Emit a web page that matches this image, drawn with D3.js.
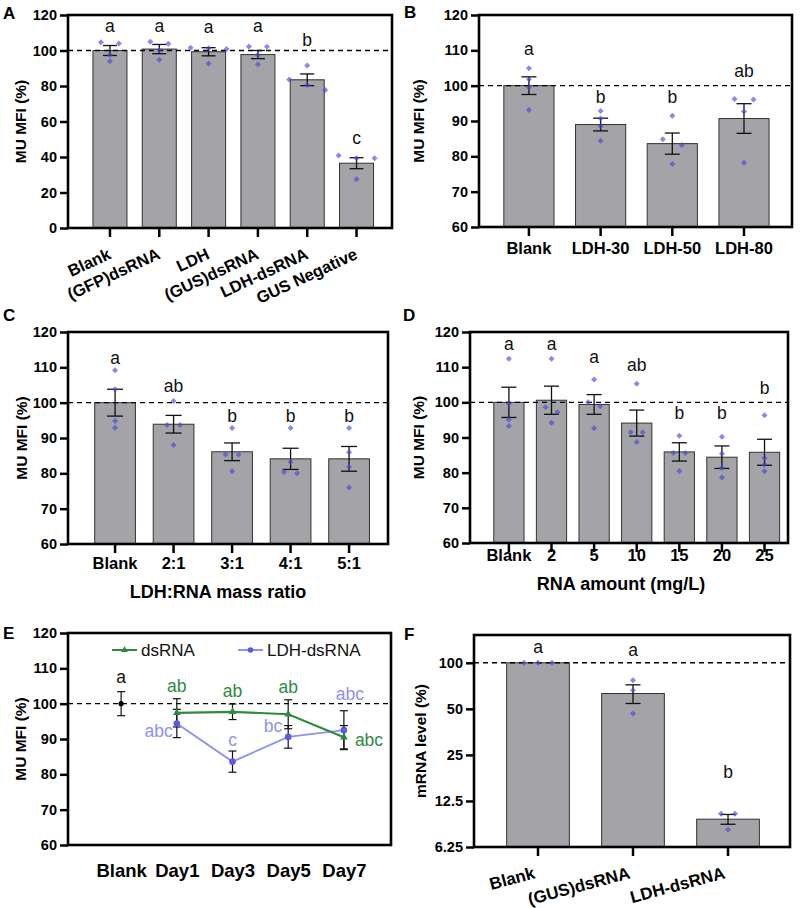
<!DOCTYPE html>
<html><head><meta charset="utf-8">
<script src="https://cdn.jsdelivr.net/npm/d3@7/dist/d3.min.js"></script>
<style>body{margin:0;background:#fff}svg{display:block}text{font-family:"Liberation Sans",Arial,Helvetica,sans-serif}</style>
</head><body><svg id="chart" width="800" height="908"></svg>
<script>
// ---------------- DATA ----------------
// Panel A
const aCats = ["Blank","(GFP)dsRNA","LDH","(GUS)dsRNA","LDH-dsRNA","GUS Negative"];
const aMean = [100, 100.8, 99.3, 97.7, 83.5, 36.5];
const aSem  = [2.8, 2.6, 2.3, 2.3, 3.3, 3.1];
const aPts  = [[104.0,104.6,97.4,93.9],[103.8,104.9,100.2,94.8],[101.6,100.8,101.2,92.7],[102.1,102.3,97.4,92.3],[91.6,83.7,80.5,77.7],[40.8,39.3,39.3,27.5]];
const aLet  = ["a","a","a","a","b","c"];
const aYTicks = [0,20,40,60,80,100,120];
// Panel B
const bCats = ["Blank","LDH-30","LDH-50","LDH-80"];
const bMean = [100, 89.0, 83.6, 90.7];
const bSem  = [2.5, 1.8, 3.0, 4.2];
const bPts  = [[104.9,101.8,99.5,93.1],[92.8,90.7,88.5,84.4],[91.5,84.8,83.2,77.8],[96.1,96.2,92.7,78.2]];
const bLet  = ["a","b","b","ab"];
const mfiTicks = [60,70,80,90,100,110,120];
// Panel C
const cCats = ["Blank","2:1","3:1","4:1","5:1"];
const cMean = [100, 93.9, 86.1, 84.1, 84.1];
const cSem  = [3.8, 2.5, 2.5, 3.0, 3.5];
const cPts  = [[109.2,103.8,94.8,92.9],[100.5,93.7,93.7,88.0],[92.8,85.3,85.3,80.6],[92.8,83.2,80.0,80.4],[92.8,86.0,81.8,76.0]];
const cLet  = ["a","ab","b","b","b"];
// Panel D
const dCats = ["Blank","2","5","10","15","20","25"];
const dMean = [100, 100.6, 99.4, 94.1, 85.9, 84.4, 85.8];
const dSem  = [4.3, 4.0, 2.8, 3.7, 2.6, 3.2, 3.7];
const dPts  = [[112.4,99.6,95.1,93.3],[112.4,98.6,97.2,94.2],[106.5,100.0,98.9,92.6],[105.3,91.5,91.5,88.7],[90.5,85.6,85.6,80.5],[90.2,85.4,81.3,78.6],[96.3,84.2,82.3,80.4]];
const dLet  = ["a","a","a","ab","b","b","b"];
// Panel E
const eCats = ["Blank","Day1","Day3","Day5","Day7"];
const eBlankMean = 100, eBlankSem = 3.4, eBlankLet = "a";
const eDays = ["Day1","Day3","Day5","Day7"];
const eDsMean = [97.4, 97.7, 97.0, 90.5];
const eDsSem  = [4.0, 2.2, 4.1, 3.3];
const eDsLet  = ["ab","ab","ab","abc"];
const eLdhMean = [94.4, 83.6, 90.6, 92.5];
const eLdhSem  = [4.0, 3.0, 3.2, 5.5];
const eLdhLet  = ["abc","c","bc","abc"];
const eSeries = ["dsRNA","LDH-dsRNA"];
// Panel F
const fCats = ["Blank","(GUS)dsRNA","LDH-dsRNA"];
const fMean = [100, 63.0, 9.5];
const fSem  = [0, 8.8, 0.7];
const fPts  = [[100,100,100],[77.0,66.2,46.6],[10.3,10.3,8.1]];
const fLet  = ["a","a","b"];
const fYTicks = [6.25,12.5,25,50,100];

// ---------------- DRAWING ----------------
const svg = d3.select("#chart");
const BAR = "#a3a3a8", DOT = "#4646dc", GREEN = "#2e8b3e", BLUE = "#8e92f0", BLUEDOT = "#5b5be6";

function swarm(vals, y, spacing, thr){
  const idx = vals.map((v,i)=>i).sort((a,b)=>vals[b]-vals[a]);
  const off = new Array(vals.length).fill(0);
  let cl = [idx[0]];
  const flush = ()=>{ const n = cl.length; cl.forEach((k,j)=>off[k]=(j-(n-1)/2)*spacing); };
  for (let j=1;j<idx.length;j++){
    if (Math.abs(y(vals[idx[j]])-y(vals[idx[j-1]]))<thr) cl.push(idx[j]); else { flush(); cl=[idx[j]]; }
  }
  flush();
  return off;
}

function panelLetter(t, x, y){
  svg.append("text").attr("x",x).attr("y",y).attr("font-size",17).attr("font-weight","bold").text(t);
}

function yAxis(g, y, x0, ticks, fmt){
  const ax = g.append("g").attr("transform",`translate(${x0},0)`)
    .call(d3.axisLeft(y).tickValues(ticks).tickSize(8).tickPadding(3).tickFormat(fmt));
  ax.select(".domain").remove();
  ax.selectAll(".tick line").attr("stroke","#000").attr("stroke-width",2.5);
  ax.selectAll(".tick text").attr("font-size",14.5).attr("font-weight","bold").attr("fill","#000")
    .style("font-family",'"Liberation Sans",Arial,sans-serif');
}

function yTitle(t, cx, cy){
  return svg.append("text").attr("transform",`translate(${cx+5.5},${cy}) rotate(-90)`).attr("text-anchor","middle")
    .attr("font-size",15.5).attr("font-weight","bold").text(t);
}

function frame(g, box){
  const [x0,y0,x1,y1] = box;
  g.append("rect").attr("x",x0).attr("y",y0).attr("width",x1-x0).attr("height",y1-y0)
    .attr("fill","none").attr("stroke","#000").attr("stroke-width",2.6);
}

function barPanel(c){
  const g = svg.append("g");
  const [x0,y0,x1,y1] = c.box;
  const y = (c.log ? d3.scaleLog().base(2) : d3.scaleLinear()).domain(c.domain).range([y1,y0]);
  const x = d3.scaleBand().domain(c.cats).range([x0,x1]).paddingInner(c.pi).paddingOuter(c.po).align(c.align);
  const bw = x.bandwidth();
  const cx = d => x(d) + bw/2;
  g.selectAll("rect.bar").data(c.cats).join("rect").attr("class","bar")
    .attr("x",d=>x(d)).attr("width",bw)
    .attr("y",(d,i)=>y(c.mean[i])).attr("height",(d,i)=>y1-y(c.mean[i]))
    .attr("fill",BAR).attr("stroke","#333").attr("stroke-width",1);
  g.append("line").attr("x1",x0).attr("x2",x1).attr("y1",y(100)).attr("y2",y(100))
    .attr("stroke","#000").attr("stroke-width",1.4).attr("stroke-dasharray","5,4");
  c.cats.forEach((d,i)=>{
    if (!c.sem[i]) return;
    const hi = y(c.mean[i]+c.sem[i]), lo = y(c.mean[i]-c.sem[i]), X = cx(d), w = c.cap;
    const e = g.append("g").attr("stroke","#111").attr("stroke-width",1.3);
    e.append("line").attr("x1",X).attr("x2",X).attr("y1",hi).attr("y2",lo);
    e.append("line").attr("x1",X-w).attr("x2",X+w).attr("y1",hi).attr("y2",hi);
    e.append("line").attr("x1",X-w).attr("x2",X+w).attr("y1",lo).attr("y2",lo);
  });
  const sym = d3.symbol().type(d3.symbolSquare).size(c.dot || 18);
  c.cats.forEach((d,i)=>{
    const off = swarm(c.pts[i], y, c.spacing, 6);
    c.pts[i].forEach((v,j)=>{
      g.append("path").attr("d",sym())
        .attr("transform",`translate(${cx(d)+off[j]},${y(v)}) rotate(45)`)
        .attr("fill",DOT).attr("fill-opacity",0.64);
    });
  });
  frame(g, c.box);
  yAxis(g, y, x0, c.ticks, c.fmt || d3.format("d"));
  const xa = g.append("g").attr("transform",`translate(0,${y1})`)
    .call(d3.axisBottom(x).tickSize(9).tickSizeOuter(0).tickFormat(""));
  xa.select(".domain").remove();
  xa.selectAll(".tick line").attr("stroke","#000").attr("stroke-width",2.5);
  c.cats.forEach(d=>{
    const t = g.append("text").attr("font-size",c.xfs || 16.5).attr("font-weight","bold").attr("fill","#000").text(d);
    if (c.rot) t.attr("text-anchor","end").attr("transform",`translate(${cx(d)+c.ldx},${y1+c.ldy}) rotate(${c.rot})`);
    else t.attr("text-anchor","middle").attr("x",cx(d)).attr("y",y1+c.ldy);
  });
  c.cats.forEach((d,i)=>{
    const top = Math.max(c.mean[i]+c.sem[i], d3.max(c.pts[i]));
    g.append("text").attr("x",cx(d)).attr("y",y(top)-c.lift[i]).attr("text-anchor","middle")
      .attr("font-size",17.5).attr("fill","#111").text(c.letters[i]);
  });
  if (c.title){
    svg.append("text").attr("x",c.titleX).attr("y",c.titleY).attr("text-anchor","middle")
      .attr("font-size",18).attr("font-weight","bold").text(c.title);
  }
  yTitle(c.ytitle || "MU MFI (%)", c.ytx, (y0+y1)/2);
}

barPanel({box:[68,15,392,228], domain:[0,120], ticks:aYTicks, cats:aCats, mean:aMean, sem:aSem, pts:aPts,
  letters:aLet, lift:[10,10,15,14,19,12], pi:0.31, po:0.44, align:0.575, cap:7, spacing:18,
  rot:-25, ldx:2, ldy:30, ytx:20});
panelLetter("A",3,19);
barPanel({box:[479,15,792,227], domain:[60,120], ticks:mfiTicks, cats:bCats, mean:bMean, sem:bSem, pts:bPts,
  letters:bLet, lift:[13.5,8,12.5,22.5], pi:0.3, po:0.333, align:0.52, cap:7.5, spacing:19,
  ldy:27, ytx:418});
panelLetter("B",404,18);
barPanel({box:[68,332,388,544], domain:[60,120], ticks:mfiTicks, cats:cCats, mean:cMean, sem:cSem, pts:cPts,
  letters:cLet, lift:[6.3,9.3,6.6,6.6,6.6], pi:0.304, po:0.387, align:0.59, cap:8, spacing:13,
  ldy:25, ytx:21, title:"LDH:RNA mass ratio", titleX:218, titleY:598});
panelLetter("C",3,321);
barPanel({box:[470,332,788,543], domain:[60,120], ticks:mfiTicks, cats:dCats, mean:dMean, sem:dSem, pts:dPts,
  letters:dLet, lift:[8.6,8.6,16,12.5,17,18,21], pi:0.29, po:0.377, align:0.74, cap:7.5, spacing:12,
  ldy:17.5, ytx:418, title:"RNA amount (mg/L)", titleX:621, titleY:590});
panelLetter("D",403,321);
barPanel({box:[474,635,790,847], log:true, domain:[6.25,152], ticks:fYTicks, fmt:d=>String(d), cats:fCats,
  mean:fMean, sem:fSem, pts:fPts, letters:fLet, lift:[10,24,36], pi:0.34, po:0.333, align:0.516, cap:7.5,
  spacing:14, rot:-15, ldx:-2, ldy:31, xfs:17, ytx:420, ytitle:"mRNA level (%)"});
panelLetter("F",404,640);

(function(){
  const box = [68,633,391,845];
  const [x0,y0,x1,y1] = box;
  const g = svg.append("g");
  const y = d3.scaleLinear().domain([60,120]).range([y1,y0]);
  const x = d3.scalePoint().domain(eCats).range([x0,x1]).padding(0.9).align(0.53);
  g.append("line").attr("x1",x0).attr("x2",x1).attr("y1",y(100)).attr("y2",y(100))
    .attr("stroke","#000").attr("stroke-width",1.4).attr("stroke-dasharray","5,4");
  const err = (X, m, s) => {
    const e = g.append("g").attr("stroke","#111").attr("stroke-width",1.2);
    e.append("line").attr("x1",X).attr("x2",X).attr("y1",y(m+s)).attr("y2",y(m-s));
    e.append("line").attr("x1",X-4).attr("x2",X+4).attr("y1",y(m+s)).attr("y2",y(m+s));
    e.append("line").attr("x1",X-4).attr("x2",X+4).attr("y1",y(m-s)).attr("y2",y(m-s));
  };
  err(x("Blank"), eBlankMean, eBlankSem);
  eDays.forEach((d,i)=>{ err(x(d), eDsMean[i], eDsSem[i]); err(x(d), eLdhMean[i], eLdhSem[i]); });
  const line = d3.line().x(d=>x(d[0])).y(d=>y(d[1]));
  g.append("path").attr("d",line(eDays.map((d,i)=>[d,eLdhMean[i]]))).attr("fill","none").attr("stroke",BLUE).attr("stroke-width",1.8);
  g.append("path").attr("d",line(eDays.map((d,i)=>[d,eDsMean[i]]))).attr("fill","none").attr("stroke",GREEN).attr("stroke-width",2.2);
  eDays.forEach((d,i)=>{
    g.append("circle").attr("cx",x(d)).attr("cy",y(eLdhMean[i])).attr("r",3.3).attr("fill",BLUEDOT);
  });
  const tri = d3.symbol().type(d3.symbolTriangle).size(26);
  eDays.forEach((d,i)=>{
    g.append("path").attr("d",tri()).attr("transform",`translate(${x(d)},${y(eDsMean[i])})`).attr("fill",GREEN);
  });
  g.append("circle").attr("cx",x("Blank")).attr("cy",y(eBlankMean)).attr("r",2.6).attr("fill","#000");
  frame(g, box);
  yAxis(g, y, x0, mfiTicks, d3.format("d"));
  const xa = g.append("g").attr("transform",`translate(0,${y1})`).call(d3.axisBottom(x).tickSize(0));
  xa.select(".domain").remove();
  xa.selectAll(".tick text").attr("y",32).attr("dy",0).attr("font-size",18.5).attr("font-weight","bold").attr("fill","#000")
    .style("font-family",'"Liberation Sans",Arial,sans-serif');
  const L = (t, X, Y, anchor, col) => g.append("text").attr("x",X).attr("y",Y).attr("text-anchor",anchor)
    .attr("font-size",17.5).attr("fill",col).text(t);
  L(eBlankLet, x("Blank"), y(eBlankMean+eBlankSem)-9, "middle", "#111");
  eDays.forEach((d,i)=>{
    if (i<3) L(eDsLet[i], x(d), y(eDsMean[i]+eDsSem[i])-7, "middle", GREEN);
    else L(eDsLet[i], x(d)+11, y(eDsMean[i])+9, "start", GREEN);
  });
  const ldhPlace = [
    d=>[x(d)-4, y(eLdhMean[0])+14, "end"],
    d=>[x(d), y(eLdhMean[1]+eLdhSem[1])-5, "middle"],
    d=>[x(d)-6, y(eLdhMean[2])-5, "end"],
    d=>[x(d)+6, y(eLdhMean[3]+eLdhSem[3])-11, "middle"]
  ];
  eDays.forEach((d,i)=>{ const p = ldhPlace[i](d); L(eLdhLet[i], p[0], p[1], p[2], BLUE); });
  const lg = g.append("g");
  const items = [{n:eSeries[0], c:GREEN, x:112, m:"tri"},{n:eSeries[1], c:BLUE, x:238, m:"dot"}];
  items.forEach(it=>{
    lg.append("line").attr("x1",it.x).attr("x2",it.x+25).attr("y1",650).attr("y2",650).attr("stroke",it.c).attr("stroke-width",2);
    if (it.m==="tri") lg.append("path").attr("d",d3.symbol().type(d3.symbolTriangle).size(20)()).attr("transform",`translate(${it.x+12.5},650)`).attr("fill",it.c);
    else lg.append("circle").attr("cx",it.x+12.5).attr("cy",650).attr("r",2.8).attr("fill",BLUEDOT);
    lg.append("text").attr("x",it.x+29).attr("y",656).attr("font-size",17).attr("fill","#111").text(it.n);
  });
  yTitle("MU MFI (%)", 20, (y0+y1)/2);
})();
panelLetter("E",3,639);
</script></body></html>
